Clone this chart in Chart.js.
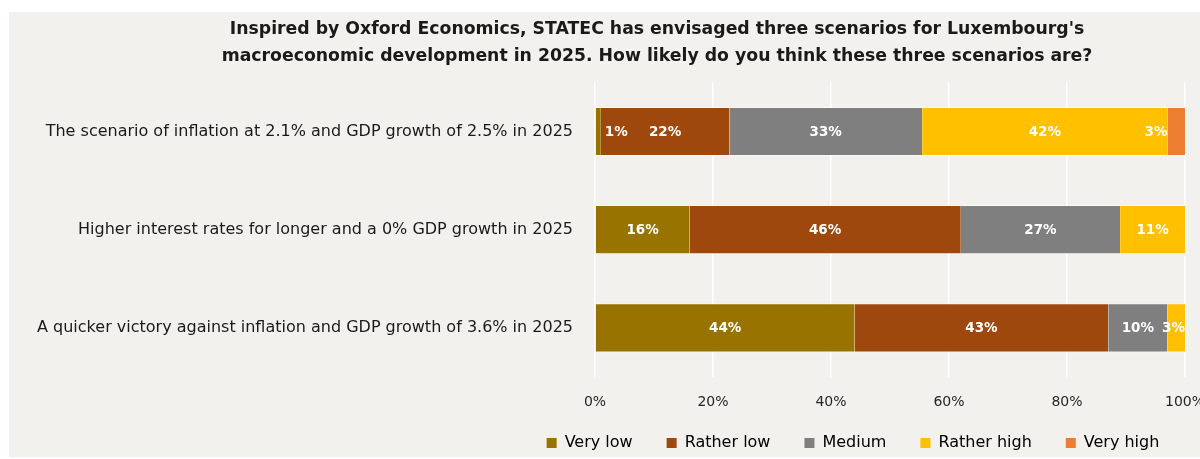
<!DOCTYPE html>
<html>
<head>
<meta charset="utf-8">
<script src="https://cdn.jsdelivr.net/npm/chart.js@4.4.1/dist/chart.umd.min.js"></script>
<style>
  html, body { margin: 0; padding: 0; background: #ffffff; }
  #panel {
    position: absolute;
    left: 9px;
    top: 12px;
    width: 1191px;
    height: 445px;
    background: #f2f1ed;
  }
</style>
</head>
<body>
<div id="panel"><canvas id="scenario-chart" width="1191" height="445"></canvas></div>
<script>
// Survey answers per scenario, in percent of respondents
const scenarios = [
  'The scenario of inflation at 2.1% and GDP growth of 2.5% in 2025',
  'Higher interest rates for longer and a 0% GDP growth in 2025',
  'A quicker victory against inflation and GDP growth of 3.6% in 2025'
];
const answerLabels = ['Very low', 'Rather low', 'Medium', 'Rather high', 'Very high'];
const veryLow    = [1, 16, 44];
const ratherLow  = [22, 46, 43];
const medium     = [33, 27, 10];
const ratherHigh = [42, 11, 3];
const veryHigh   = [3, 0, 0];
const axisTicks  = [0, 20, 40, 60, 80, 100];

const answerColors = ['#997300', '#9e480e', '#7f7f7f', '#ffc000', '#ed7d31'];
const fontFamily = "'DejaVu Sans', sans-serif";

// horizontal centres of the title and the legend inside the canvas
const titleCenterX = 648;
const legendCenterX = 844;

const answers = [veryLow, ratherLow, medium, ratherHigh, veryHigh];

// 100% stacked: each row is scaled by its own total
const rowTotals = scenarios.map((_, i) => answers.reduce((s, a) => s + a[i], 0));

const datasets = answers.map((values, k) => ({
  label: answerLabels[k],
  data: values.map((v, i) => v / rowTotals[i] * 100),
  rawValues: values,
  backgroundColor: answerColors[k],
  borderColor: 'rgba(255,255,255,0.6)',
  borderWidth: { top: 1, bottom: 1, left: 0, right: 0 },
  borderSkipped: false,
  categoryPercentage: 1,
  barPercentage: 0.5
}));

// White value labels inside each segment; small ones are moved beside it
const segmentLabels = {
  id: 'segmentLabels',
  afterDatasetsDraw(chart) {
    const ctx = chart.ctx;
    const area = chart.chartArea;
    ctx.save();
    ctx.font = 'bold 13.5px ' + fontFamily;
    ctx.fillStyle = '#ffffff';
    ctx.textBaseline = 'middle';
    ctx.textAlign = 'left';
    scenarios.forEach((_, i) => {
      const items = [];
      chart.data.datasets.forEach((ds, d) => {
        const raw = ds.rawValues[i];
        if (!raw) return;
        const bar = chart.getDatasetMeta(d).data[i];
        const text = raw + '%';
        items.push({ text, x0: bar.base, x1: bar.x, y: bar.y, w: ctx.measureText(text).width });
      });
      items.forEach((it, n) => {
        const fits = it.w < (it.x1 - it.x0) - 4;
        if (!fits && n === 0) {
          it.left = it.x1 + 4;
        } else if (!fits && n === items.length - 1 && n > 0) {
          const prev = items[n - 1];
          const prevRight = (prev.x0 + prev.x1) / 2 + prev.w / 2;
          it.left = (it.x0 - it.w > prevRight + 4) ? it.x0 - it.w : (it.x0 + it.x1) / 2 - it.w / 2;
        } else {
          it.left = (it.x0 + it.x1) / 2 - it.w / 2;
        }
        if (it.left + it.w > area.right) it.left = area.right - it.w;
      });
      // push labels left when they run into the next one
      for (let n = items.length - 2; n >= 0; n--) {
        const limit = items[n + 1].left - 4;
        if (items[n].left + items[n].w > limit) items[n].left = limit - items[n].w;
      }
      items.forEach(it => ctx.fillText(it.text, it.left, it.y + 1));
    });
    ctx.restore();
  }
};

// Title and legend are centred over the plot rather than the whole canvas;
// the x axis box is stretched so its tick labels are not clipped
const shiftBlocks = {
  id: 'shiftBlocks',
  afterLayout(chart) {
    const title = chart.titleBlock;
    const tw = title.right - title.left;
    title.left = titleCenterX - tw / 2;
    title.right = titleCenterX + tw / 2;

    const legend = chart.legend;
    const lw = legend.right - legend.left;
    legend.left = legendCenterX - lw / 2;
    legend.right = legendCenterX + lw / 2;
    legend.top += 4;
    legend.bottom += 4;

    const x = chart.scales.x;
    x.bottom = x.top + 36;
  }
};

new Chart(document.getElementById('scenario-chart'), {
  type: 'bar',
  data: { labels: scenarios, datasets: datasets },
  plugins: [segmentLabels, shiftBlocks],
  options: {
    responsive: false,
    animation: false,
    indexAxis: 'y',
    layout: { padding: { left: 0, right: 0, top: 4, bottom: 0 } },
    scales: {
      x: {
        stacked: true,
        min: 0,
        max: 100,
        afterBuildTicks(scale) {
          scale.ticks = axisTicks.map(v => ({ value: v }));
        },
        afterFit(scale) {
          scale.height = 20;
          scale.paddingRight = 15;
        },
        ticks: {
          callback: v => v + '%',
          color: '#262626',
          font: { family: fontFamily, size: 14 },
          padding: 17,
          maxRotation: 0
        },
        grid: { color: '#ffffff', lineWidth: 1.5, drawTicks: false },
        border: { display: false }
      },
      y: {
        stacked: true,
        afterFit(scale) { scale.width = 586; },
        ticks: {
          color: '#1a1a1a',
          font: { family: fontFamily, size: 16 },
          padding: 14
        },
        grid: { display: false },
        border: { display: false }
      }
    },
    plugins: {
      title: {
        display: true,
        text: [
          "Inspired by Oxford Economics, STATEC has envisaged three scenarios for Luxembourg's",
          'macroeconomic development in 2025. How likely do you think these three scenarios are?'
        ],
        color: '#1a1a1a',
        font: { family: fontFamily, size: 17.3, weight: 'bold', lineHeight: 1.57 },
        padding: { top: 0, bottom: 12 }
      },
      legend: {
        position: 'bottom',
        labels: {
          boxWidth: 10,
          boxHeight: 10,
          padding: 34,
          color: '#1a1a1a',
          font: { family: fontFamily, size: 16 },
          generateLabels(chart) {
            return chart.data.datasets.map((ds, d) => ({
              text: ds.label,
              fillStyle: ds.backgroundColor,
              strokeStyle: ds.backgroundColor,
              lineWidth: 0,
              datasetIndex: d
            }));
          }
        }
      },
      tooltip: { enabled: false }
    }
  }
});
</script>
</body>
</html>
